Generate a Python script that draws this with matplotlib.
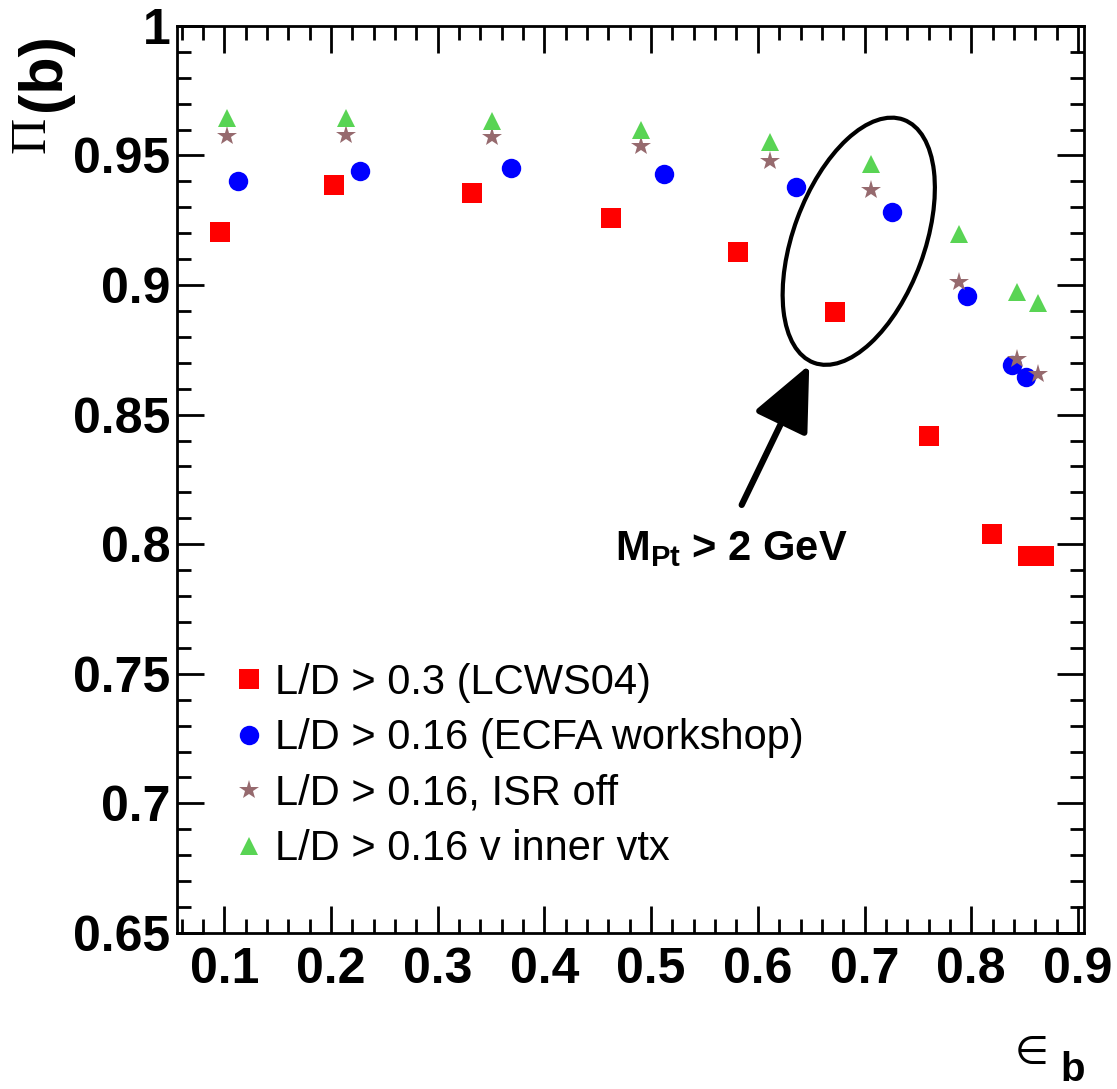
import matplotlib
matplotlib.use('Agg')
import matplotlib.pyplot as plt
from matplotlib.patches import Ellipse
from matplotlib.ticker import MultipleLocator, FuncFormatter

plt.rcParams['font.family'] = ['Liberation Sans', 'DejaVu Sans']
plt.rcParams['font.weight'] = 'bold'
plt.rcParams['mathtext.fontset'] = 'custom'
plt.rcParams['mathtext.rm'] = 'Liberation Sans'
plt.rcParams['mathtext.bf'] = 'Liberation Sans:bold'

# b-tag efficiency / purity for the different cuts
eff_lcws = [0.0957, 0.2028, 0.3319, 0.4624, 0.5811, 0.6721, 0.7605, 0.8195, 0.8535, 0.8685]
pur_lcws = [0.9206, 0.9387, 0.9354, 0.9258, 0.9128, 0.8897, 0.8418, 0.8039, 0.7953, 0.7953]

eff_ecfa = [0.1126, 0.2272, 0.3684, 0.5124, 0.6358, 0.7258, 0.7963, 0.8385, 0.8514]
pur_ecfa = [0.9400, 0.9442, 0.9453, 0.9430, 0.9379, 0.9281, 0.8958, 0.8692, 0.8645]

eff_isr = [0.1028, 0.2138, 0.3506, 0.4905, 0.6114, 0.7061, 0.7889, 0.8432, 0.8623]
pur_isr = [0.9576, 0.9580, 0.9573, 0.9538, 0.9480, 0.9365, 0.9011, 0.8714, 0.8657]

eff_vtx = [0.1028, 0.2138, 0.3506, 0.4905, 0.6114, 0.7061, 0.7889, 0.8432, 0.8623]
pur_vtx = [0.9646, 0.9646, 0.9633, 0.9597, 0.9551, 0.9466, 0.9197, 0.8975, 0.8931]

labels = ['L/D > 0.3 (LCWS04)', 'L/D > 0.16 (ECFA workshop)',
          'L/D > 0.16, ISR off', 'L/D > 0.16 v inner vtx']

fig = plt.figure(figsize=(11.17, 10.89), dpi=100)
ax = fig.add_axes([0.1589, 0.1433, 0.8118, 0.8329])

ax.plot(eff_lcws, pur_lcws, ls='none', marker='s', ms=14, mew=0, color='#ff0000', label=labels[0])
ax.plot(eff_ecfa, pur_ecfa, ls='none', marker='o', ms=14, mew=0, color='#0000ff', label=labels[1])
ax.plot(eff_isr, pur_isr, ls='none', marker='*', ms=14.5, mew=0, color='#966a6e', label=labels[2])
ax.plot(eff_vtx, pur_vtx, ls='none', marker='^', ms=13.5, mew=0, color='#59d454', label=labels[3])

ax.set_xlim(0.056, 0.906)
ax.set_ylim(0.65, 1.0)
ax.xaxis.set_major_locator(MultipleLocator(0.1))
ax.xaxis.set_minor_locator(MultipleLocator(0.02))
ax.yaxis.set_major_locator(MultipleLocator(0.05))
ax.yaxis.set_minor_locator(MultipleLocator(0.01))
fmt = FuncFormatter(lambda v, p: ('%.2f' % v).rstrip('0').rstrip('.'))
ax.xaxis.set_major_formatter(fmt)
ax.yaxis.set_major_formatter(fmt)

for s in ax.spines.values():
    s.set_linewidth(2)
ax.tick_params(which='both', direction='in', top=True, right=True, width=2)
ax.tick_params(which='major', length=19.5, labelsize=36)
ax.tick_params(which='minor', length=10)
ax.tick_params(axis='x', pad=10)
ax.tick_params(axis='y', pad=5)

leg = ax.legend(loc='upper left', bbox_to_anchor=(0.0651, 0.2977), frameon=False,
                prop={'size': 30, 'weight': 'normal'}, handlelength=0.6,
                handletextpad=0.32, labelspacing=0.37, borderpad=0, borderaxespad=0)

# annotation: ellipse + arrow + text
ax.add_patch(Ellipse((0.7513, 0.7626), 0.1445, 0.2856, angle=-20.3,
                     transform=ax.transAxes, fill=False, lw=3, ec='black'))
ax.annotate('', xy=(0.6967, 0.6262), xytext=(0.6222, 0.4719),
            xycoords='axes fraction', textcoords='axes fraction',
            arrowprops=dict(arrowstyle='-|>,head_length=4.0,head_width=1.8',
                            mutation_scale=10, lw=4.5, color='black',
                            shrinkA=0, shrinkB=0))
ax.text(0.4825, 0.4112, r'$\mathbf{M_{Pt}}$ > 2 GeV', transform=ax.transAxes,
        fontsize=30, fontweight='bold', va='baseline', ha='left')

# axis titles
fig.text(0.0537, 0.9697, '(b)', rotation=90, rotation_mode='anchor',
         ha='right', va='baseline', fontsize=44, fontweight='bold')
fig.text(0.0394, 0.8926, 'Π', rotation=90, rotation_mode='anchor',
         ha='right', va='baseline', fontsize=36, fontweight='normal',
         family=['Liberation Serif', 'DejaVu Serif'])
fig.text(1015 / 1117, 1 - 1064 / 1089, '∈', fontsize=28, fontweight='normal',
         family=['DejaVu Sans'], ha='left', va='baseline')
fig.text(1060 / 1117, 1 - 1081 / 1089, 'b', fontsize=29, fontweight='bold',
         ha='left', va='baseline')

fig.savefig('out.png', dpi=100)
